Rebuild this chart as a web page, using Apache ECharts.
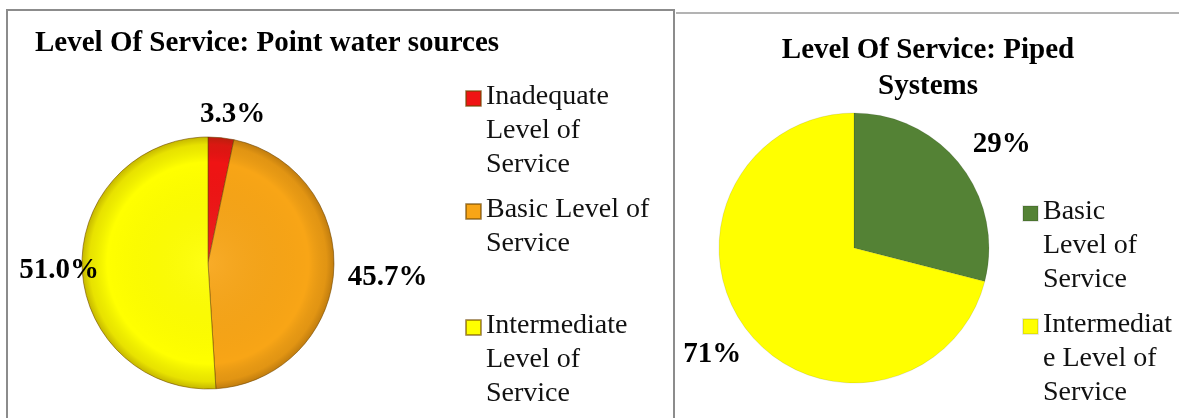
<!DOCTYPE html>
<html>
<head>
<meta charset="utf-8">
<script src="https://cdn.jsdelivr.net/npm/echarts@6/dist/echarts.min.js"></script>
<style>
  html, body { margin: 0; padding: 0; background: #fff; }
  #chart { width: 1179px; height: 418px; }
</style>
</head>
<body>
<div id="chart"></div>
<script>
// ---- data ----
const pointTitle = 'Level Of Service: Point water sources';
const pointCategories = ['Inadequate Level of Service', 'Basic Level of Service', 'Intermediate Level of Service'];
const pointValues = [3.3, 45.7, 51.0];
const pointLegendText = ['Inadequate\nLevel of\nService', 'Basic Level of\nService', 'Intermediate\nLevel of\nService'];

const pipedTitle = 'Level Of Service: Piped\nSystems';
const pipedCategories = ['Basic Level of Service', 'Intermediate Level of Service'];
const pipedValues = [29, 71];
const pipedLegendText = ['Basic\nLevel of\nService', 'Intermediat\ne Level of\nService'];

// ---- styling ----
const FONT = 'Liberation Serif';
const pointColors = ['#ef1414', '#f8a516', '#ffff00'];
const pipedColors = ['#548235', '#ffff00'];
const LINE_H = 34;

// piped names made unique so the two legends do not share entries
const pipedNames = pipedCategories.map(c => c + '\u200b');

const legendText = {};
pointCategories.forEach((c, i) => legendText[c] = pointLegendText[i]);
pipedNames.forEach((c, i) => legendText[c] = pipedLegendText[i]);

function iconFor(lines) {
  const h = lines * LINE_H;
  return 'path://M0,0M0,11L15,11L15,26L0,26ZM15,' + h;
}

function legendFor(name, left, top) {
  const lines = legendText[name].split('\n').length;
  return {
    data: [{ name: name, icon: iconFor(lines) }],
    left: left, top: top, padding: 0,
    orient: 'vertical',
    itemWidth: 15, itemHeight: lines * LINE_H,
    selectedMode: false,
    formatter: n => legendText[n],
    textStyle: { fontFamily: FONT, fontSize: 28, lineHeight: LINE_H, color: '#111' }
  };
}

const pointOffsets = [[-21, -23], [14, 5], [17, 4]];
const pipedOffsets = [[12, -21], [-6, 24]];

const labelStyle = {
  show: true, position: 'outside', distanceToLabelLine: 0,
  fontFamily: FONT, fontWeight: 'bold', fontSize: 29, color: '#000'
};

const option = {
  animation: false,
  title: [
    { text: pointTitle, left: 35, top: 29, padding: 0,
      textStyle: { fontFamily: FONT, fontWeight: 'bold', fontSize: 29, color: '#000' } },
    { text: pipedTitle, left: 928, top: 33, padding: 0, textAlign: 'center',
      textStyle: { fontFamily: FONT, fontWeight: 'bold', fontSize: 29, lineHeight: 36, color: '#000' } }
  ],
  legend: [
    legendFor(pointCategories[0], 465, 79),
    legendFor(pointCategories[1], 465, 192),
    legendFor(pointCategories[2], 465, 308),
    legendFor(pipedNames[0], 1022, 194),
    legendFor(pipedNames[1], 1022, 307)
  ],
  graphic: [
    { type: 'rect', silent: true, shape: { x: 7, y: 10, width: 667, height: 430 },
      style: { fill: 'none', stroke: '#8c8c8c', lineWidth: 2 } },
    { type: 'line', silent: true, shape: { x1: 676, y1: 13, x2: 1179, y2: 13 },
      style: { stroke: '#9a9a9a', lineWidth: 1.5 } }
  ],
  series: [
    {
      type: 'pie', name: 'point', center: [208, 263], radius: 126,
      startAngle: 90, clockwise: true, avoidLabelOverlap: false,
      label: Object.assign({}, labelStyle, { formatter: p => p.value.toFixed(1) + '%' }),
      labelLine: { show: false, length: 0, length2: 0 },
      labelLayout: p => ({ dx: pointOffsets[p.dataIndex][0], dy: pointOffsets[p.dataIndex][1] }),
      emphasis: { disabled: true },
      itemStyle: { borderColor: 'rgba(110,70,0,0.55)', borderWidth: 1 },
      data: pointCategories.map((c, i) => ({ name: c, value: pointValues[i], itemStyle: { color: pointColors[i] } }))
    },
    {
      // bevel shading overlay
      type: 'pie', name: 'shade', center: [208, 263], radius: 126, silent: true,
      label: { show: false }, labelLine: { show: false }, emphasis: { disabled: true },
      itemStyle: { color: { type: 'radial', x: 0.5, y: 0.5, r: 0.5, colorStops: [
        { offset: 0, color: 'rgba(255,255,255,0.08)' },
        { offset: 0.8, color: 'rgba(0,0,0,0)' },
        { offset: 0.94, color: 'rgba(90,50,0,0.14)' },
        { offset: 1, color: 'rgba(90,50,0,0.35)' }] } },
      data: [{ name: 'shade', value: 1 }]
    },
    {
      type: 'pie', name: 'piped', center: [854, 248], radius: 135,
      startAngle: 90, clockwise: true, avoidLabelOverlap: false,
      label: Object.assign({}, labelStyle, { formatter: p => p.value + '%' }),
      labelLine: { show: false, length: 0, length2: 0 },
      labelLayout: p => ({ dx: pipedOffsets[p.dataIndex][0], dy: pipedOffsets[p.dataIndex][1] }),
      emphasis: { disabled: true },
      itemStyle: { borderColor: 'rgba(0,0,0,0.10)', borderWidth: 1 },
      data: pipedNames.map((c, i) => ({ name: c, value: pipedValues[i], itemStyle: { color: pipedColors[i] } }))
    }
  ]
};

const chart = echarts.init(document.getElementById('chart'), null, { renderer: 'canvas' });
chart.setOption(option);
</script>
</body>
</html>
